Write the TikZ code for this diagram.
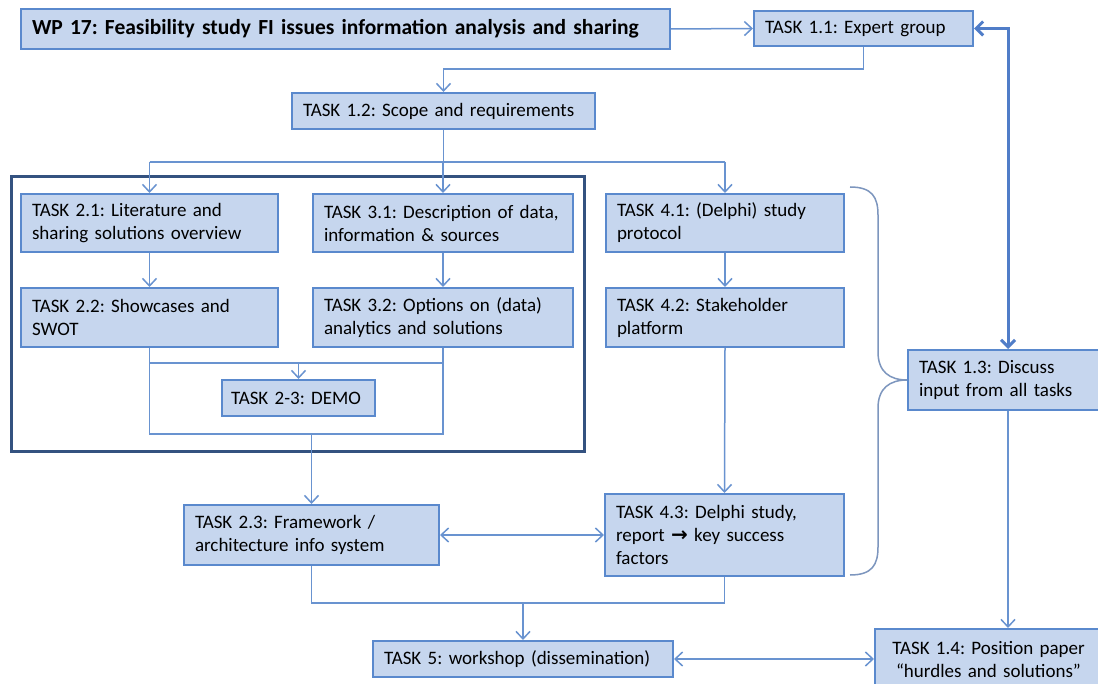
\documentclass[tikz,border=0pt]{standalone}
\usepackage{fontspec}
\setmainfont{Carlito}
\newfontfamily\symfont{DejaVu Sans}
\usetikzlibrary{arrows.meta}
\definecolor{boxfill}{RGB}{198,214,238}
\definecolor{boxline}{RGB}{90,137,205}
\definecolor{conncol}{RGB}{105,147,208}
\definecolor{thickcol}{RGB}{80,125,200}
\definecolor{framecol}{RGB}{52,82,128}
\definecolor{bracecol}{RGB}{125,150,190}
\begin{document}
\frenchspacing
\begin{tikzpicture}[x=1pt,y=-1pt,
  task/.style={draw=boxline, fill=boxfill, line width=2pt, inner xsep=11pt, inner ysep=0pt,
    align=left, font=\fontsize{19}{23}\selectfont\frenchspacing},
  conn/.style={draw=conncol, line width=1.5pt},
  arr/.style={-{Straight Barb[length=7.5pt,width=14pt,line width=1.5pt]}},
  arrboth/.style={{Straight Barb[length=7.5pt,width=14pt,line width=1.5pt]}-{Straight Barb[length=7.5pt,width=14pt,line width=1.5pt]}},
  thickconn/.style={draw=thickcol, line width=3pt,
    {Straight Barb[length=7pt,width=14pt,line width=3pt]}-{Straight Barb[length=7pt,width=14pt,line width=3pt]}},
  bracestyle/.style={draw=bracecol, line width=1.5pt}]
\clip (0,0) rectangle (1098,684);
\fill[white] (0,0) rectangle (1098,684);

% group frame
\node[draw=framecol, line width=3pt, minimum width=573pt, minimum height=275pt, inner sep=0pt] (grp) at (297.5,314.5) {};

% nodes
\node[task, text width=635pt, inner xsep=7pt, minimum height=40pt, font=\fontsize{21.5}{26}\selectfont\bfseries\frenchspacing] (title) at (345.5,29)
  {\hspace*{4pt}WP 17: Feasibility study FI issues information analysis and sharing};
\node[task, text width=197pt, minimum height=35pt] (t11) at (863.5,28.5) {TASK 1.1: Expert group};
\node[task, text width=281pt, minimum height=36pt] (t12) at (443.5,111) {TASK 1.2: Scope and requirements};
\node[task, text width=235pt, minimum height=58pt] (t21) at (149.5,223) {TASK 2.1: Literature and\\sharing solutions overview};
\node[task, text width=238pt, minimum height=58pt] (t31) at (443,223) {TASK 3.1: Description of data,\\information \& sources};
\node[task, text width=216pt, minimum height=58pt] (t41) at (725,223) {TASK 4.1: (Delphi) study\\protocol};
\node[task, text width=235pt, minimum height=59pt] (t22) at (149.5,317.5) {TASK 2.2: Showcases and\\SWOT};
\node[task, text width=238pt, minimum height=59pt] (t32) at (443,317.5) {TASK 3.2: Options on (data)\\analytics and solutions};
\node[task, text width=216pt, minimum height=59pt] (t42) at (725,317.5) {TASK 4.2: Stakeholder\\platform};
\node[task, text width=135pt, inner xsep=9pt, minimum height=36pt] (demo) at (298.5,398) {TASK 2-3: DEMO};
\node[task, text width=172pt, minimum height=60pt] (t13) at (1005,380) {TASK 1.3: Discuss\\input from all tasks};
\node[task, text width=233pt, minimum height=60pt] (t23) at (311.5,535) {TASK 2.3: Framework /\\architecture info system};
\node[task, text width=217pt, minimum height=82pt] (t43) at (724.5,535) {TASK 4.3: Delphi study,\\report {\symfont\bfseries\fontsize{20}{23}\selectfont →} key success\\factors};
\node[task, text width=278pt, minimum height=36pt] (t5) at (523,659) {TASK 5: workshop (dissemination)};
\node[task, text width=205pt, minimum height=60pt, align=center] (t14) at (988.5,659) {TASK 1.4: Position paper\\“hurdles and solutions”};

% helper coordinates
\coordinate (k1) at (0,69);
\coordinate (bus) at (0,162);
\coordinate (lm) at (0,363);
\coordinate (lb) at (0,434);
\coordinate (bb) at (0,603);
\coordinate (rt) at (1008,28.5);

% connectors
\draw[conn,arr] (title.east) -- (t11.west);
\draw[conn,arr] (t11.south) -- (t11.south |- k1) -- (t12.north |- k1) -- (t12.north);
\draw[conn] (t12.south) -- (t12.south |- bus);
\draw[conn] (t21.north |- bus) -- (t41.north |- bus);
\draw[conn,arr] (t21.north |- bus) -- (t21.north);
\draw[conn,arr] (t31.north |- bus) -- (t31.north);
\draw[conn,arr] (t41.north |- bus) -- (t41.north);
\draw[conn,arr] (t21.south) -- (t22.north);
\draw[conn,arr] (t31.south) -- (t32.north);
\draw[conn,arr] (t41.south) -- (t42.north);
\draw[conn] (t22.south) -- (t22.south |- lb) -- (t32.south |- lb) -- (t32.south);
\draw[conn] (t22.south |- lm) -- (t32.south |- lm);
\draw[conn,arr] (demo.north |- lm) -- (demo.north);
\draw[conn,arr] (t23.north |- lb) -- (t23.north);
\draw[conn,arr] (t42.south) -- (t43.north);
\draw[conn,arrboth] (t23.east) -- (t43.west);
\draw[conn] (t23.south) -- (t23.south |- bb) -- (t43.south |- bb) -- (t43.south);
\draw[conn,arr] (t5.north |- bb) -- (t5.north);
\draw[conn,arrboth] (t5.east) -- (t14.west);
\draw[conn,arr] (t13.south -| rt) -- (t14.north -| rt);
\draw[thickconn] (t11.east) -- (rt) -- (rt |- t13.north);

% brace
\draw[bracestyle] (850,187) .. controls (872,187) and (878,197) .. (878,215) -- (878,352)
  .. controls (878,372) and (890,380) .. (t13.west)
  .. controls (890,380) and (878,388) .. (878,408) -- (878,547)
  .. controls (878,565) and (872,575) .. (850,575);
\end{tikzpicture}
\end{document}
